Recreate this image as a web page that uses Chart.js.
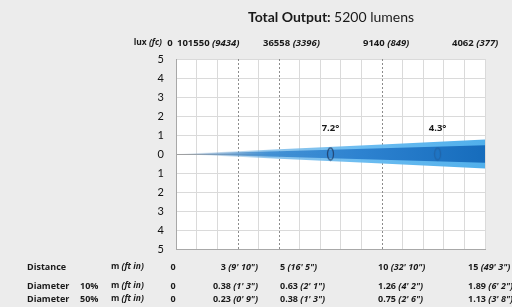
<!DOCTYPE html>
<html>
<head>
<meta charset="utf-8">
<script src="https://cdn.jsdelivr.net/npm/chart.js@4.4.1/dist/chart.umd.min.js"></script>
<style>
    html, body { margin: 0; padding: 0; background: #ececec; }
    #wrap { width: 512px; height: 307px; position: relative; }
</style>
</head>
<body>
<div id="wrap"><canvas id="chart"></canvas></div>
<script>
// photometric table (distance columns)
const distances = [0, 3, 5, 10, 15];               // m
const distanceFtIn = ['', "(9' 10\")", "(16' 5\")", "(32' 10\")", "(49' 3\")"];
const luxValues = ['0', '101550', '36558', '9140', '4062'];
const fcValues = ['', '(9434)', '(3396)', '(849)', '(377)'];
const diameter10 = [0, 0.38, 0.63, 1.26, 1.89];    // m
const diameter10FtIn = ['', "(1' 3\")", "(2' 1\")", "(4' 2\")", "(6' 2\")"];
const diameter50 = [0, 0.23, 0.38, 0.75, 1.13];    // m
const diameter50FtIn = ['', "(0' 9\")", "(1' 3\")", "(2' 6\")", "(3' 8\")"];
// beam half widths as drawn in the graphic (m, at the distances above)
const beamOuterHalf = [0, 0.15, 0.25, 0.5, 0.76];
const beamInnerHalf = [0, 0.09, 0.15, 0.3, 0.46];
const beamAngles = ['7.2°', '4.3°'];
const beamAngleAt = [7.5, 12.7];                   // m
const markerDistances = [3, 5, 10];
const yTicks = [-5, -4, -3, -2, -1, 0, 1, 2, 3, 4, 5];

const FONT = 'Lato, "Open Sans", sans-serif';
const TABLE_FONT = '"Open Sans", Lato, sans-serif';

const makeEllipse = (alpha) => {
    const c = document.createElement('canvas');
    c.width = 9; c.height = 15;
    const g = c.getContext('2d');
    g.strokeStyle = `rgba(35, 70, 115, ${alpha})`;
    g.lineWidth = 1.3;
    g.beginPath();
    g.ellipse(4.5, 7.5, 3, 6, 0, 0, Math.PI * 2);
    g.stroke();
    return c;
};

const beamFill = (stops) => (ctx) => {
    const area = ctx.chart.chartArea;
    if (!area) return 'transparent';
    const g = ctx.chart.ctx.createLinearGradient(area.left, 0, area.right, 0);
    stops.forEach(([o, c]) => g.addColorStop(o, c));
    return g;
};

// mixed bold / italic text
const drawRich = (ctx, parts, x, y, align, size, family = TABLE_FONT) => {
    const fontOf = (st) => `${st.includes('i') ? 'italic ' : ''}${st.includes('b') ? 'bold ' : ''}${size}px ${family}`;
    let total = 0;
    parts.forEach(([t, st]) => { ctx.font = fontOf(st); total += ctx.measureText(t).width; });
    if (align === 'right') x -= total;
    if (align === 'center') x -= total / 2;
    ctx.textAlign = 'left';
    ctx.textBaseline = 'middle';
    parts.forEach(([t, st]) => {
        ctx.font = fontOf(st);
        ctx.fillText(t, x, y);
        x += ctx.measureText(t).width;
    });
};

const fmt = (v) => v === 0 ? '0' : v.toFixed(2);

const tablePlugin = {
    id: 'tablePlugin',
    beforeDraw(chart) {
        const {ctx, chartArea: a} = chart;
        ctx.save();
        ctx.fillStyle = '#ffffff';
        ctx.fillRect(a.left, a.top, a.right - a.left, a.bottom - a.top);
        ctx.restore();
    },
    beforeDatasetsDraw(chart) {
        const {ctx, chartArea: a, scales: {x}} = chart;
        ctx.save();
        ctx.strokeStyle = '#8c8c8c';
        ctx.lineWidth = 1;
        ctx.setLineDash([2, 2]);
        markerDistances.forEach(d => {
            const px = Math.round(x.getPixelForValue(d)) + 0.5;
            ctx.beginPath();
            ctx.moveTo(px, a.top);
            ctx.lineTo(px, a.bottom);
            ctx.stroke();
        });
        ctx.restore();
    },
    afterDraw(chart) {
        const {ctx, scales: {x, y}} = chart;
        ctx.save();
        ctx.fillStyle = '#1a1a1a';

        // title
        drawRich(ctx, [['Total Output: ', 'b'], ['5200 lumens', '']], 331, 17, 'center', 14, FONT);

        // beam angle labels
        beamAngles.forEach((t, i) => {
            drawRich(ctx, [[t, 'b']], x.getPixelForValue(beamAngleAt[i]), y.getPixelForValue(1.35), 'center', 9.5);
        });

        // lux row
        const luxY = 43;
        drawRich(ctx, [['lux ', 'b'], ['(fc)', 'bi']], 162, luxY, 'right', 8.5);
        drawRich(ctx, [[luxValues[0], 'b']], 170, luxY, 'center', 9.5);
        const luxCols = [177, 263, 363, 452];
        luxCols.forEach((cx, i) => {
            drawRich(ctx, [[luxValues[i + 1] + ' ', 'b'], [fcValues[i + 1], 'bi']], cx, luxY, 'left', 9.5);
        });

        // bottom rows
        const cols = [[258, 'right'], [280, 'left'], [378, 'left'], [468, 'left']];
        const rows = [
            {y: 267, label: 'Distance', pct: '', vals: distances.map(String), ft: distanceFtIn},
            {y: 286, label: 'Diameter', pct: '10%', vals: diameter10.map(fmt), ft: diameter10FtIn},
            {y: 299, label: 'Diameter', pct: '50%', vals: diameter50.map(fmt), ft: diameter50FtIn}
        ];
        rows.forEach(r => {
            drawRich(ctx, [[r.label, 'b']], 27, r.y, 'left', 9);
            if (r.pct) drawRich(ctx, [[r.pct, 'b']], 80, r.y, 'left', 9);
            drawRich(ctx, [['m ', 'b'], ['(ft in)', 'bi']], 111, r.y, 'left', 8.5);
            drawRich(ctx, [[r.vals[0], 'b']], 173, r.y, 'center', 9);
            cols.forEach(([cx, al], i) => {
                drawRich(ctx, [[r.vals[i + 1] + ' ', 'b'], [r.ft[i + 1], 'bi']], cx, r.y, al, 9);
            });
        });
        ctx.restore();
    }
};

const half = (arr, sign) => distances.map((d, i) => ({x: d, y: sign * arr[i]}));

const outerFill = beamFill([[0, 'rgba(170,190,205,0)'], [0.1, 'rgba(150,185,215,0.3)'], [0.3, 'rgba(110,180,230,0.75)'], [0.6, 'rgba(100,185,240,0.95)'], [1, 'rgba(80,175,235,1)']]);
const innerFill = beamFill([[0, 'rgba(110,130,150,0)'], [0.1, 'rgba(90,140,190,0.4)'], [0.3, 'rgba(60,140,210,0.9)'], [0.6, 'rgba(45,130,208,1)'], [1, 'rgba(22,108,188,1)']]);

new Chart(document.getElementById('chart'), {
    type: 'line',
    data: {
        datasets: [
            {
                data: beamAngleAt.map(d => ({x: d, y: 0})),
                showLine: false,
                pointStyle: [makeEllipse(0.95), makeEllipse(0.3)],
                pointRadius: 6,
                order: 0
            },
            {data: half(beamInnerHalf, 1), fill: '+1', backgroundColor: innerFill, borderWidth: 0, pointRadius: 0, order: 1},
            {data: half(beamInnerHalf, -1), fill: false, borderWidth: 0, pointRadius: 0, order: 1},
            {data: half(beamOuterHalf, 1), fill: '+1', backgroundColor: outerFill, borderWidth: 0, pointRadius: 0, order: 2},
            {data: half(beamOuterHalf, -1), fill: false, borderWidth: 0, pointRadius: 0, order: 2}
        ]
    },
    options: {
        responsive: true,
        maintainAspectRatio: false,
        animation: false,
        events: [],
        layout: {padding: {top: 59, right: 27, bottom: 58, left: 0}},
        plugins: {legend: {display: false}, tooltip: {enabled: false}},
        scales: {
            x: {
                type: 'linear',
                min: 0,
                max: 15,
                ticks: {display: false, stepSize: 1},
                grid: {
                    drawTicks: false,
                    color: (c) => markerDistances.includes(c.tick.value) ? 'rgba(0,0,0,0)' : '#dadada'
                },
                border: {color: '#a8a8a8'},
                afterFit: (s) => { s.height = 0; }
            },
            y: {
                min: -5,
                max: 5,
                afterBuildTicks: (s) => { s.ticks = yTicks.map(v => ({value: v})); },
                ticks: {
                    padding: 12,
                    color: '#111111',
                    font: {family: FONT, size: 11},
                    callback: (v) => String(Math.abs(v))
                },
                grid: {
                    drawTicks: false,
                    color: (c) => c.tick.value === 0 ? '#a0a0a0' : '#dadada'
                },
                border: {color: '#a8a8a8'},
                afterFit: (s) => { s.width = 176; }
            }
        }
    },
    plugins: [tablePlugin]
});
</script>
</body>
</html>
